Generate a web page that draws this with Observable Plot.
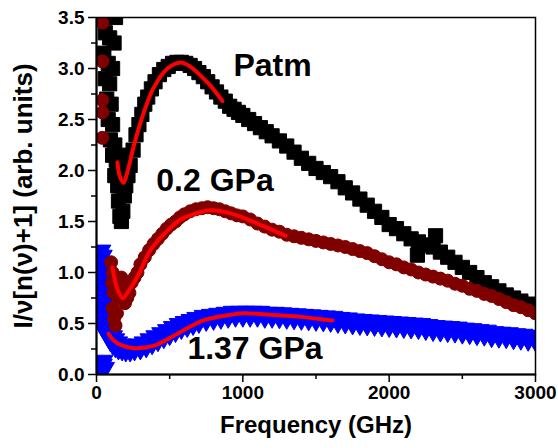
<!DOCTYPE html>
<html><head><meta charset="utf-8">
<script src="https://cdn.jsdelivr.net/npm/d3@7"></script>
<script src="https://cdn.jsdelivr.net/npm/@observablehq/plot@0.6"></script>
<style>body{margin:0;background:#fff}</style>
</head><body><div id="chart"></div>
<script>
// [frequency (GHz), intensity]
const patm = [[20,3.6],[45,3.6],[70,3.55],[100,3.55],[130,3.5],[60,3.35],[90,3.3],[120,3.25],[50,3.15],[80,3.05],[110,3.0],[60,2.9],[90,2.85],[70,2.7],[100,2.65],[80,2.5],[110,2.45],[95,2.3],[125,2.25],[110,2.15],[135,2.1],[125,1.95],[150,2.0],[145,1.85],[165,1.85],[175,1.95],[190,2.05],[200,2.15],[185,1.8],[150,1.7],[160,1.55],[170,1.5],[180,1.6],[190,1.75],[200,1.85],[215,1.95],[230,2.05],[250,2.2],[270,2.35],[290,2.45],[310,2.55],[330,2.65],[350,2.72],[375,2.8],[400,2.87],[430,2.94],[460,2.99],[490,3.02],[520,3.05],[550,3.06],[580,3.06],[610,3.05],[640,3.03],[670,3.0],[700,2.96],[730,2.92],[760,2.87],[790,2.82],[820,2.77],[850,2.72],[880,2.68],[910,2.63],[940,2.6],[970,2.57],[1000,2.54],[1040,2.5],[1080,2.46],[1120,2.42],[1160,2.38],[1200,2.34],[1250,2.29],[1300,2.24],[1350,2.18],[1400,2.12],[1450,2.07],[1500,2.02],[1550,1.98],[1600,1.94],[1650,1.89],[1700,1.83],[1750,1.78],[1800,1.72],[1850,1.66],[1900,1.6],[1950,1.54],[2000,1.47],[2050,1.43],[2100,1.38],[2150,1.33],[2193,1.17],[2200,1.3],[2250,1.27],[2300,1.25],[2317,1.36],[2350,1.2],[2400,1.15],[2450,1.1],[2500,1.05],[2550,1.0],[2600,0.95],[2650,0.9],[2700,0.86],[2750,0.82],[2800,0.78],[2850,0.75],[2900,0.72],[2950,0.69],[3000,0.66]];

const gpa02 = [[40,3.45],[40,3.07],[40,2.69],[40,2.57],[40,2.32],[100,1.1],[110,1.0],[105,0.9],[115,0.8],[110,0.65],[120,0.55],[130,0.48],[140,0.6],[150,0.75],[160,0.9],[170,0.95],[180,0.85],[195,0.7],[210,0.75],[225,0.8],[240,0.9],[260,0.95],[280,1.0],[300,1.08],[330,1.15],[360,1.22],[390,1.28],[420,1.33],[450,1.38],[480,1.43],[510,1.47],[540,1.5],[570,1.54],[600,1.57],[640,1.6],[680,1.62],[720,1.63],[760,1.64],[800,1.63],[840,1.62],[880,1.6],[920,1.58],[960,1.56],[1000,1.55],[1050,1.52],[1100,1.48],[1150,1.45],[1200,1.42],[1250,1.4],[1300,1.37],[1350,1.355],[1400,1.34],[1450,1.325],[1500,1.31],[1550,1.295],[1600,1.28],[1650,1.265],[1700,1.25],[1750,1.23],[1800,1.21],[1850,1.19],[1900,1.16],[1950,1.13],[2000,1.1],[2050,1.08],[2100,1.05],[2150,1.03],[2200,1.0],[2250,0.98],[2300,0.96],[2350,0.94],[2400,0.92],[2450,0.89],[2500,0.87],[2550,0.84],[2600,0.82],[2650,0.79],[2700,0.77],[2750,0.74],[2800,0.71],[2850,0.68],[2900,0.66],[2950,0.63],[3000,0.6]];

const gpa137 = [[25,0.08],[40,0.05],[30,0.12],[15,1.2],[25,1.15],[20,1.05],[30,1.0],[25,0.9],[35,0.85],[30,0.75],[45,0.7],[40,0.6],[55,0.55],[50,0.48],[65,0.45],[80,0.4],[95,0.36],[110,0.33],[130,0.3],[150,0.28],[175,0.27],[200,0.26],[230,0.26],[260,0.27],[300,0.28],[340,0.3],[380,0.33],[420,0.36],[460,0.39],[500,0.42],[540,0.45],[580,0.48],[620,0.5],[660,0.52],[700,0.54],[750,0.56],[800,0.57],[850,0.58],[900,0.59],[950,0.6],[1000,0.6],[1050,0.6],[1100,0.6],[1150,0.59],[1200,0.59],[1250,0.585],[1300,0.58],[1350,0.575],[1400,0.57],[1450,0.565],[1500,0.56],[1550,0.555],[1600,0.55],[1650,0.54],[1700,0.535],[1750,0.525],[1800,0.52],[1850,0.515],[1900,0.51],[1950,0.505],[2000,0.5],[2050,0.495],[2100,0.49],[2150,0.485],[2200,0.48],[2250,0.47],[2300,0.46],[2350,0.455],[2400,0.45],[2450,0.445],[2500,0.435],[2550,0.43],[2600,0.42],[2650,0.415],[2700,0.4],[2750,0.395],[2800,0.39],[2850,0.38],[2900,0.375],[2950,0.365],[3000,0.36]];

// fitted curves
const fitPatm = [[143,2.08],[160,1.94],[185,1.88],[210,1.98],[253,2.23],[290,2.42],[321,2.56],[390,2.81],[485,3.0],[574,3.06],[640,3.02],[711,2.93],[780,2.83],[861,2.68]];
const fit02 = [[109,1.05],[140,0.85],[178,0.75],[220,0.82],[280,0.96],[369,1.22],[485,1.41],[574,1.52],[642,1.56],[779,1.61],[916,1.58],[1100,1.48],[1292,1.36]];
const fit137 = [[82,0.4],[120,0.33],[164,0.29],[246,0.26],[390,0.28],[553,0.4],[731,0.53],[895,0.58],[1005,0.6],[1237,0.58],[1400,0.565],[1551,0.54],[1613,0.53]];

const seriesLabels = ["Patm","0.2 GPa","1.37 GPa"];
const labelFreq = [1203, 810, 1083];
const labelI = [3.03, 1.9, 0.255];

const xMajor = [0,1000,2000,3000];
const xMinor = [500,1500,2500];
const yMajor = [0,0.5,1.0,1.5,2.0,2.5,3.0,3.5];
const yMinor = [0.25,0.75,1.25,1.75,2.25,2.75,3.25];

const FONT = "'Liberation Sans', Arial, Helvetica, sans-serif";
const labels = seriesLabels.map((t,i)=>({t, x:labelFreq[i], y:labelI[i]}));

const chart = Plot.plot({
  width: 558, height: 448,
  marginTop: 17, marginRight: 23, marginBottom: 74, marginLeft: 96,
  style: {fontFamily: FONT, fontWeight: "bold", fontSize: "19px", color: "black", background: "white"},
  x: {domain: [0,3000]},
  y: {domain: [0,3.5]},
  marks: [
    Plot.dot(patm, {x: d=>d[0], y: d=>d[1], symbol: "square", r: 8, fill: "black", stroke: "black", strokeWidth: 1, clip: true}),
    Plot.dot(gpa137, {x: d=>d[0], y: d=>d[1], symbol: "triangle", rotate: 180, r: 9, fill: "#0000ff", stroke: "#0000ff", strokeWidth: 1, clip: true}),
    Plot.dot(gpa02, {x: d=>d[0], y: d=>d[1], symbol: "circle", r: 6.5, fill: "#800000", stroke: "#800000", strokeWidth: 1, clip: true}),
    Plot.line(fitPatm, {x: d=>d[0], y: d=>d[1], curve: "catmull-rom", stroke: "#ff0000", strokeWidth: 4}),
    Plot.line(fit02, {x: d=>d[0], y: d=>d[1], curve: "catmull-rom", stroke: "#ff0000", strokeWidth: 4}),
    Plot.line(fit137, {x: d=>d[0], y: d=>d[1], curve: "catmull-rom", stroke: "#ff0000", strokeWidth: 4}),
    Plot.frame({stroke: "black", strokeWidth: 1.5}),
    Plot.ruleX([0], {stroke: "black", strokeWidth: 2}),
    Plot.ruleY([0], {stroke: "black", strokeWidth: 2}),
    Plot.axisX({ticks: xMajor, tickSize: 8, tickPadding: 3, tickFormat: d=>String(d), fontSize: 19, fontWeight: "bold", label: null, strokeWidth: 1.5}),
    Plot.axisX({ticks: xMinor, tickSize: 5, tickFormat: ()=>"", label: null, strokeWidth: 1.5}),
    Plot.axisY({ticks: yMajor, tickSize: 8, tickPadding: 4, tickFormat: d3.format(".1f"), fontSize: 19, fontWeight: "bold", label: null, strokeWidth: 1.5}),
    Plot.axisY({ticks: yMinor, tickSize: 5, tickFormat: ()=>"", label: null, strokeWidth: 1.5}),
    Plot.text(labels, {x: "x", y: "y", text: "t", fontSize: 32, fontWeight: "bold", fill: "black", fontFamily: FONT}),
    Plot.text(["Frequency (GHz)"], {frameAnchor: "bottom", dy: 58, fontSize: 24, fontWeight: "bold", fill: "black", fontFamily: FONT}),
    Plot.text(["I/ν[n(ν)+1] (arb. units)"], {frameAnchor: "left", dx: -73, rotate: -90, textAnchor: "middle", fontSize: 26, fontWeight: "bold", fill: "black", fontFamily: FONT})
  ]
});
document.getElementById("chart").appendChild(chart);
</script>
</body></html>
